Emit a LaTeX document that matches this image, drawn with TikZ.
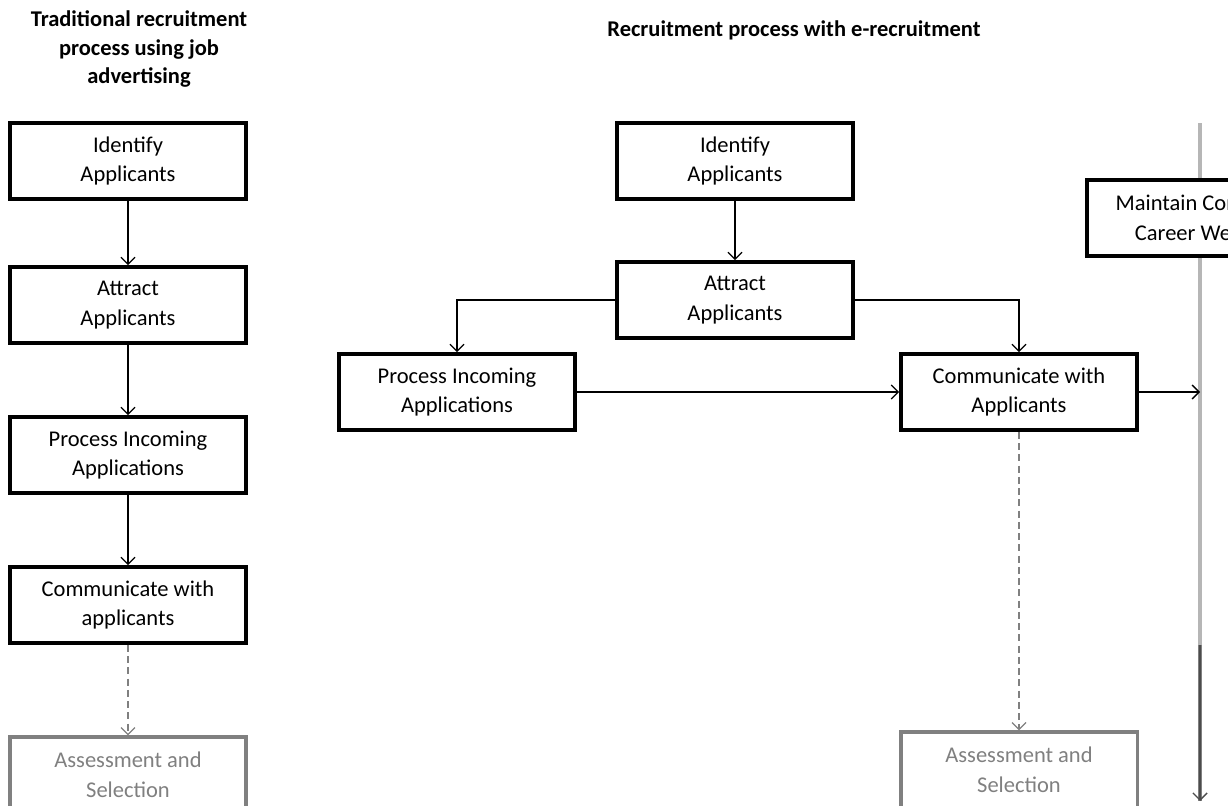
\documentclass[tikz,border=0pt]{standalone}
\usepackage{fontspec}
\setmainfont{Carlito}
\usetikzlibrary{arrows.meta}

\begin{document}
\begin{tikzpicture}[x=0.025cm, y=-0.025cm,
    stage/.style={draw, line width=2.6pt, fill=white, align=center, minimum width=5.9cm, minimum height=1.9cm, font=\fontsize{16}{21}\selectfont},
    later/.style={stage, draw=gray, text=gray, line width=2.2pt},
    arr/.style={-{Straight Barb[length=5pt, width=10pt]}, line width=0.9pt},
    heading/.style={align=center, font=\bfseries\fontsize{16}{20.5}\selectfont}]
  \useasboundingbox (0,0) rectangle (1228,805);
  \clip (0,0) rectangle (1228,805);
  \coordinate (webtop) at (1200,123);
  \coordinate (websplit) at (1200,645);
  \coordinate (webend) at (1200,801);
  \draw[line width=2.5pt, color=lightgray!85!gray] (webtop) -- (websplit);
  \draw[line width=2.5pt, color=gray] (websplit) -- (webend);
  \draw[arr, line width=1pt, color=gray!60!black] (websplit) -- (webend);
  \node[heading] (title1) at (139,49) {Traditional recruitment\\process using job\\advertising};
  \node[heading] (title2) at (794,30) {Recruitment process with e-recruitment};
  \foreach \n/\y/\t in {ident1/161/{Identify\\Applicants}, attract1/305/{Attract\\Applicants}, process1/455/{Process Incoming\\Applications}, comm1/605/{Communicate with\\applicants}} {
    \node[stage] (\n) at (128,\y) {\t};
  }
  \node[later] (assess1) at (128,775) {Assessment and\\Selection};
  \foreach \a/\b in {ident1/attract1, attract1/process1, process1/comm1} {
    \draw[arr] (\a) -- (\b);
  }
  \draw[arr, dash pattern=on 5pt off 3pt, color=gray] (comm1) -- (assess1);
  \node[stage] (ident2) at (735,161) {Identify\\Applicants};
  \node[stage] (attract2) at (735,300) {Attract\\Applicants};
  \node[stage] (process2) at (457,392) {Process Incoming\\Applications};
  \node[stage] (comm2) at (1019,392) {Communicate with\\Applicants};
  \node[later] (assess2) at (1019,770) {Assessment and\\Selection};
  \node[stage] (website) at (1205,218) {Maintain Corporate\\Career Website};
  \draw[arr] (ident2) -- (attract2);
  \draw[arr] (attract2.west) -| (process2.north);
  \draw[arr] (attract2.east) -| (comm2.north);
  \draw[arr] (process2) -- (comm2);
  \draw[arr] (comm2) -- (comm2 -| webtop);
  \draw[arr, dash pattern=on 5pt off 3pt, color=gray] (comm2) -- (assess2);
\end{tikzpicture}
\end{document}
